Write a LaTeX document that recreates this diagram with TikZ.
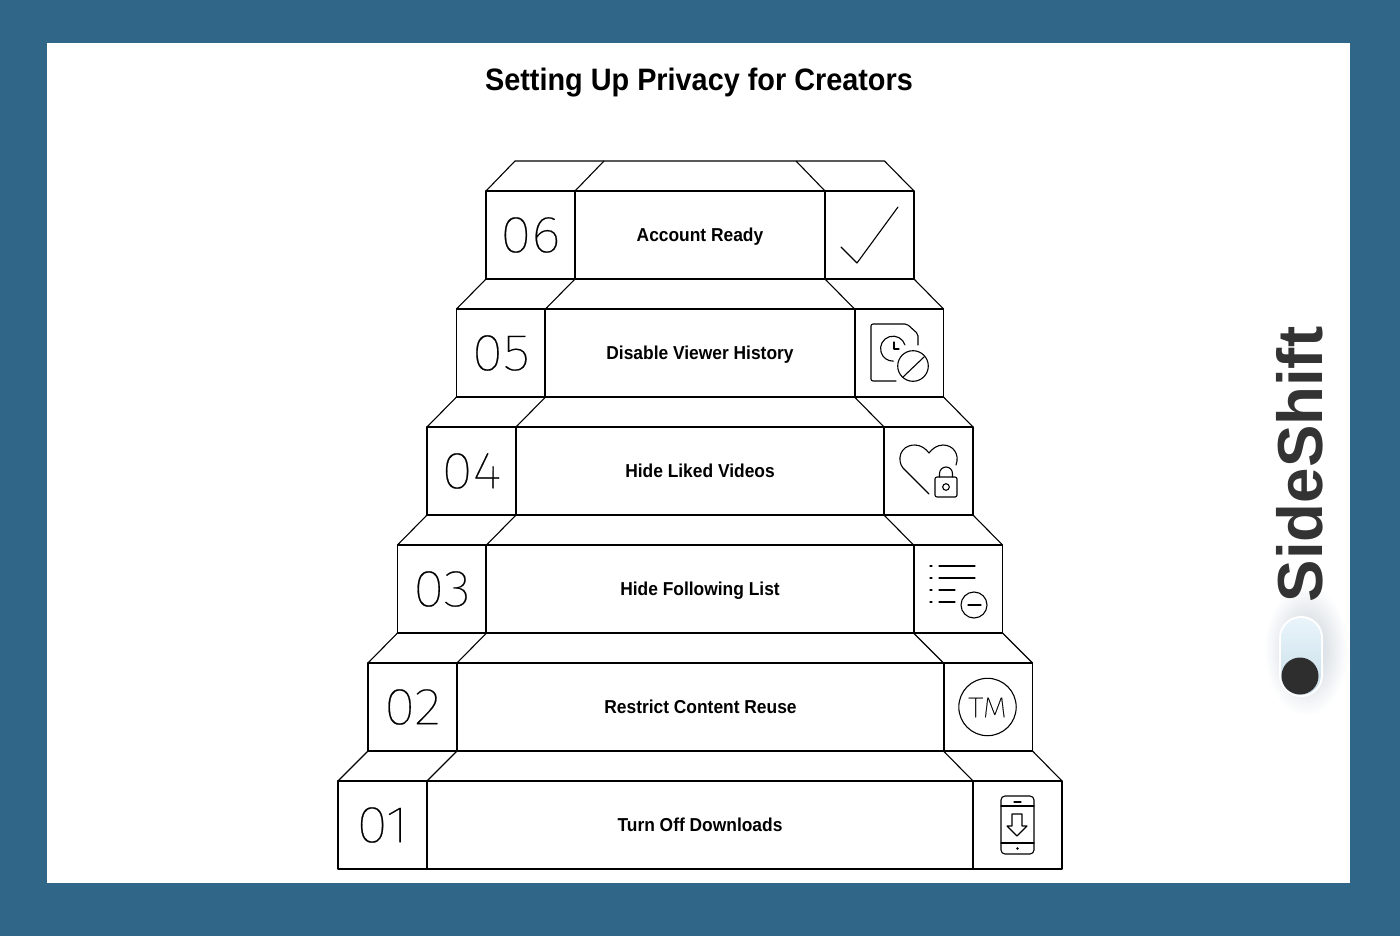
\documentclass[tikz,border=0pt]{standalone}
\usepackage{fontspec}
\setmainfont{Liberation Sans}[FakeStretch=0.93]
\newfontfamily\logofont{Liberation Sans}
\newfontfamily\numfont{Fira Sans Thin}[FakeStretch=1.1, FakeBold=0.4]
\definecolor{frameblue}{HTML}{306687}
\definecolor{logodark}{HTML}{333333}
\definecolor{toggletop}{HTML}{E9F4FA}
\definecolor{togglebottom}{HTML}{C8DEEA}
\definecolor{toggleglow}{HTML}{C3CDD6}
\begin{document}
\begin{tikzpicture}[
        x=1pt, y=-1pt,
        line join=round,
        stepline/.style={line width=1.1pt},
        iconline/.style={line width=1.1pt, line cap=round},
        stepbox/.style={draw, stepline, minimum height=88pt, inner sep=0pt, outer sep=0pt},
        numbox/.style={stepbox, minimum width=89pt, font=\numfont\fontsize{52}{52}\selectfont},
        labelbox/.style={stepbox, text height=13pt, text depth=0pt, font=\bfseries\fontsize{18.7}{23}\selectfont},
        iconbox/.style={stepbox, minimum width=89pt}
        ]
            \useasboundingbox (0, 0) rectangle (1400, 936);

            % Frame
            \fill[frameblue] (0, 0) rectangle (1400, 936);
            \fill[white] (47, 43) rectangle (1350, 883);
            \node[text height=22pt, text depth=0pt, font=\bfseries\fontsize{31}{36}\selectfont] (title) at (699, 79.5) {Setting Up Privacy for Creators};

            % Step 01
            \node[numbox] (num1) at (382.5, 825) {01};
            \node[labelbox, minimum width=546pt] (label1) at (700, 825) {Turn Off Downloads};
            \node[iconbox] (icon1) at (1017.5, 825) {};

            % Step 02
            \node[numbox] (num2) at (412.5, 707) {02};
            \node[labelbox, minimum width=487pt] (label2) at (700.5, 707) {Restrict Content Reuse};
            \node[iconbox] (icon2) at (988, 707) {};

            % Step 03
            \node[numbox] (num3) at (442, 589) {03};
            \node[labelbox, minimum width=428pt] (label3) at (700, 589) {Hide Following List};
            \node[iconbox] (icon3) at (958, 589) {};

            % Step 04
            \node[numbox] (num4) at (471.5, 471) {04};
            \node[labelbox, minimum width=368pt] (label4) at (700, 471) {Hide Liked Videos};
            \node[iconbox] (icon4) at (928.5, 471) {};

            % Step 05
            \node[numbox] (num5) at (501, 353) {05};
            \node[labelbox, minimum width=310pt] (label5) at (700, 353) {Disable Viewer History};
            \node[iconbox] (icon5) at (899, 353) {};

            % Step 06
            \node[numbox] (num6) at (530.5, 235) {06};
            \node[labelbox, minimum width=250pt] (label6) at (700, 235) {Account Ready};
            \node[iconbox] (icon6) at (869.5, 235) {};

            % Tops of the steps
            \draw[stepline] (num1.north west) -- (num2.south west);
            \draw[stepline] (num1.north east) -- (num2.south east);
            \draw[stepline] (icon1.north west) -- (icon2.south west);
            \draw[stepline] (icon1.north east) -- (icon2.south east);
            \draw[stepline] (num2.north west) -- (num3.south west);
            \draw[stepline] (num2.north east) -- (num3.south east);
            \draw[stepline] (icon2.north west) -- (icon3.south west);
            \draw[stepline] (icon2.north east) -- (icon3.south east);
            \draw[stepline] (num3.north west) -- (num4.south west);
            \draw[stepline] (num3.north east) -- (num4.south east);
            \draw[stepline] (icon3.north west) -- (icon4.south west);
            \draw[stepline] (icon3.north east) -- (icon4.south east);
            \draw[stepline] (num4.north west) -- (num5.south west);
            \draw[stepline] (num4.north east) -- (num5.south east);
            \draw[stepline] (icon4.north west) -- (icon5.south west);
            \draw[stepline] (icon4.north east) -- (icon5.south east);
            \draw[stepline] (num5.north west) -- (num6.south west);
            \draw[stepline] (num5.north east) -- (num6.south east);
            \draw[stepline] (icon5.north west) -- (icon6.south west);
            \draw[stepline] (icon5.north east) -- (icon6.south east);
            \coordinate (backa) at (515, 161);
            \coordinate (backb) at (604, 161);
            \coordinate (backc) at (796, 161);
            \coordinate (backd) at (884.5, 161);
            \draw[stepline] (num6.north west) -- (backa) -- (backd) -- (icon6.north east);
            \draw[stepline] (num6.north east) -- (backb);
            \draw[stepline] (icon6.north west) -- (backc);

            % Icon: phone
            \draw[iconline, rounded corners=4pt] (1001, 796) rectangle (1034, 854);
            \draw[iconline] (1001, 806) -- (1034, 806);
            \draw[iconline] (1001, 843) -- (1034, 843);
            \draw[iconline] (1014, 802) -- (1021, 802);
            \fill (1017.5, 848.5) circle (1.3);
            \draw[iconline] (1012, 814) -- (1022, 814) -- (1022, 826) -- (1027, 826) -- (1017, 836) -- (1007, 826) -- (1012, 826) -- cycle;

            % Icon: trademark
            \draw[iconline] (987.5, 707) circle (28.7);
            \node[font=\numfont\fontsize{29}{29}\selectfont] (tm) at (987.5, 707.5) {TM};

            % Icon: list
            \draw[iconline] (930, 566) -- (932, 566);
            \draw[iconline] (930, 578) -- (932, 578);
            \draw[iconline] (930, 590) -- (932, 590);
            \draw[iconline] (930, 602) -- (932, 602);
            \draw[iconline] (939, 566) -- (975, 566);
            \draw[iconline] (939, 578) -- (975, 578);
            \draw[iconline] (939, 590) -- (955, 590);
            \draw[iconline] (939, 602) -- (955, 602);
            \draw[iconline] (974, 605) circle (13);
            \draw[iconline] (968, 605) -- (981, 605);

            % Icon: heart and lock
            \draw[iconline] (929, 494) -- (903, 468) .. controls (897, 461) and (899, 445) .. (915, 445) .. controls (921, 445) and (926, 449) .. (929, 453) .. controls (932, 449) and (937, 445) .. (943, 445) .. controls (953, 445) and (960, 454) .. (956, 465);
            \draw[iconline, rounded corners=2pt] (935, 477) rectangle (957, 497);
            \draw[iconline] (939.5, 477) -- (939.5, 473.5) arc (180:360:6.5) -- (952.5, 477);
            \draw[iconline] (946, 487) circle (3.3);

            % Icon: document and clock
            \draw[iconline, rounded corners=2pt] (896, 381) -- (871, 381) -- (871, 324) -- (907, 324) -- (918, 334) -- (918, 345);
            \draw[iconline] (905, 345) arc (-17:-272:12.5);
            \draw[iconline] (894, 342) -- (894, 349) -- (899, 349);
            \draw[iconline] (913, 366) circle (15.3);
            \draw[iconline] (903, 377) -- (924, 357);

            % Icon: check mark
            \draw[iconline] (841, 247) -- (857, 263) -- (898, 207);

            % Logo
            \shade[inner color=toggleglow, outer color=white] (1306, 650) ellipse (42 and 66);
            \node[rotate=90, anchor=base, text=logodark, font=\logofont\bfseries\fontsize{63.6}{64}\selectfont] (logo) at (1322, 464.5) {SideShift};
            \fill[white, rounded corners=22pt] (1279, 616) rectangle (1323, 697);
            \shade[top color=toggletop, bottom color=togglebottom, rounded corners=20pt] (1281, 618) rectangle (1321, 695);
            \fill[black!82] (1300, 676) circle (18.5);
        \end{tikzpicture}
\end{document}
